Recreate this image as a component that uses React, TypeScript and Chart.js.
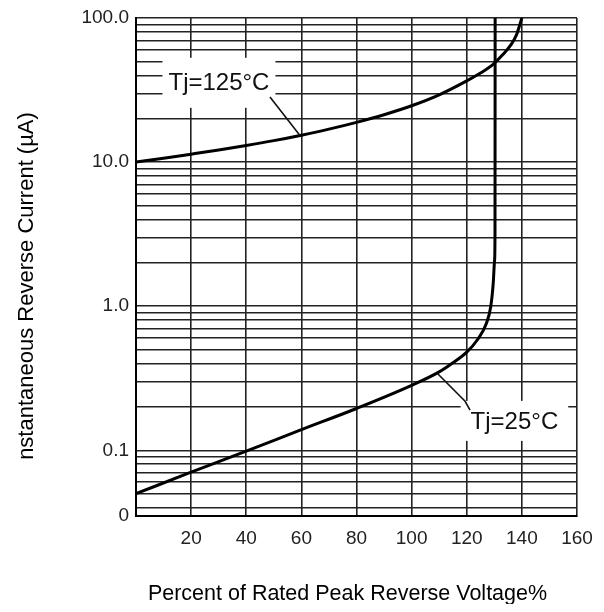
import { useEffect, useRef } from "react";
import { Chart, registerables } from "chart.js";

Chart.register(...registerables);

// ---- data ----
const X_TICKS = [0, 20, 40, 60, 80, 100, 120, 140, 160];
const X_TICK_LABELS = ["", "20", "40", "60", "80", "100", "120", "140", "160"];

const Y_MIN = 0.035;
const Y_MAX = 100;
const Y_DECADES = [0.01, 0.1, 1, 10];
const Y_LABEL_VALUES = [0.035, 0.1, 1, 10, 100];
const Y_LABEL_TEXT = ["0", "0.1", "1.0", "10.0", "100.0"];

const V_125 = [0, 10, 20, 30, 40, 50, 60, 70, 80, 90, 100, 110, 120, 125, 130, 133, 136, 138, 140];
const I_125 = [10.0, 10.64, 11.35, 12.13, 13.03, 14.09, 15.38, 16.94, 18.88, 21.33, 24.6, 29.3, 36.6, 41.5, 48.5, 55.5, 65, 76, 100];

const V_25 = [0, 20, 40, 60, 80, 100, 110, 115, 120, 124, 127, 128.7, 129.6, 130.1, 130.25, 130.3];
const I_25 = [0.05, 0.0705, 0.0986, 0.139, 0.195, 0.282, 0.35, 0.405, 0.48, 0.59, 0.75, 0.99, 1.44, 2.09, 3.2, 100];

const X_TITLE = "Percent of Rated Peak Reverse Voltage%";
const Y_TITLE = "nstantaneous Reverse Current (µA)";

const LABEL_TEXTS = ["Tj=125°C", "Tj=25°C"];

// ---- derived ----
const Y_GRID: number[] = [Y_MIN];
Y_DECADES.forEach((d) => {
  for (let k = 1; k <= 9; k++) {
    const v = +(d * k).toPrecision(6);
    if (v > Y_MIN && v < Y_MAX) Y_GRID.push(v);
  }
});
Y_GRID.push(Y_MAX);

const FONT = "'Liberation Sans', Arial, Helvetica, sans-serif";

// annotation layout (data coordinates)
const ANNOTATIONS = [
  {
    text: LABEL_TEXTS[0],
    at: [30.1, 35.5],
    padX: 6,
    padY: 25,
    leader: [
      [48.6, 28.3],
      [59.5, 15.3],
    ],
  },
  {
    text: LABEL_TEXTS[1],
    at: [137.3, 0.16],
    padX: 10,
    padY: 20,
    leader: [
      [109.1, 0.345],
      [119.4, 0.219],
      [121.2, 0.19],
    ],
  },
];

const annotationPlugin = {
  id: "curveLabels",
  afterDatasetsDraw(chart: any) {
    const { ctx, scales, chartArea } = chart;
    const xs = scales.x;
    const ys = scales.y;
    ctx.save();
    ctx.font = `24px ${FONT}`;
    ctx.textAlign = "center";
    ctx.textBaseline = "middle";
    ANNOTATIONS.forEach((a) => {
      const px = xs.getPixelForValue(a.at[0]);
      const py = ys.getPixelForValue(a.at[1]);
      const w = ctx.measureText(a.text).width;
      ctx.fillStyle = "#fff";
      ctx.fillRect(px - w / 2 - a.padX, py - a.padY, w + 2 * a.padX, 2 * a.padY);
      ctx.fillStyle = "#111";
      ctx.fillText(a.text, px, py + 1);
      ctx.strokeStyle = "#111";
      ctx.lineWidth = 1.6;
      ctx.beginPath();
      a.leader.forEach((p, i) => {
        const lx = xs.getPixelForValue(p[0]);
        const ly = ys.getPixelForValue(p[1]);
        if (i === 0) ctx.moveTo(lx, ly);
        else ctx.lineTo(lx, ly);
      });
      ctx.stroke();
    });

    // axis titles
    ctx.fillStyle = "#000";
    ctx.font = `21.5px ${FONT}`;
    ctx.fillText(X_TITLE, (chartArea.left + chartArea.right) / 2 - 9, chartArea.bottom + 78);
    ctx.save();
    ctx.translate(chartArea.left - 109, 278);
    ctx.rotate(-Math.PI / 2);
    ctx.font = `22px ${FONT}`;
    ctx.fillText(Y_TITLE, 0, 0);
    ctx.restore();
    ctx.restore();
  },
};

export default function App() {
  const ref = useRef<HTMLCanvasElement | null>(null);

  useEffect(() => {
    if (!ref.current) return;
    const chart = new Chart(ref.current, {
      type: "line",
      data: {
        datasets: [
          {
            label: LABEL_TEXTS[0],
            data: V_125.map((v, i) => ({ x: v, y: I_125[i] })),
            borderColor: "#000",
            borderWidth: 3,
            pointRadius: 0,
            cubicInterpolationMode: "monotone",
            fill: false,
          },
          {
            label: LABEL_TEXTS[1],
            data: V_25.map((v, i) => ({ x: v, y: I_25[i] })),
            borderColor: "#000",
            borderWidth: 3,
            pointRadius: 0,
            cubicInterpolationMode: "monotone",
            fill: false,
          },
        ],
      },
      options: {
        animation: false,
        responsive: true,
        maintainAspectRatio: false,
        layout: { padding: { top: 10, right: 19, bottom: 0, left: 0 } },
        plugins: {
          legend: { display: false },
          tooltip: { enabled: false },
          title: { display: false },
        },
        scales: {
          x: {
            type: "linear",
            min: 0,
            max: 160,
            afterBuildTicks: (axis: any) => {
              axis.ticks = X_TICKS.map((value) => ({ value }));
            },
            afterFit: (axis: any) => {
              axis.height = 88;
              axis.paddingLeft = 0;
              axis.paddingRight = 0;
            },
            ticks: {
              autoSkip: false,
              maxRotation: 0,
              padding: 11,
              color: "#222",
              font: { family: FONT, size: 19 },
              callback: (value: any) => {
                const i = X_TICKS.indexOf(Number(value));
                return i >= 0 ? X_TICK_LABELS[i] : "";
              },
            },
            grid: { color: "#222", lineWidth: 1.6, drawTicks: false },
            border: { color: "#000", width: 2 },
          },
          y: {
            type: "logarithmic",
            min: Y_MIN,
            max: Y_MAX,
            afterBuildTicks: (axis: any) => {
              axis.ticks = Y_GRID.map((value) => ({ value }));
            },
            afterFit: (axis: any) => {
              axis.width = 128;
              axis.paddingTop = 0;
              axis.paddingBottom = 0;
            },
            ticks: {
              autoSkip: false,
              padding: 7,
              color: "#222",
              font: { family: FONT, size: 19 },
              callback: (value: any) => {
                const v = Number(value);
                const i = Y_LABEL_VALUES.findIndex((t) => Math.abs(t - v) / t < 1e-6);
                return i >= 0 ? Y_LABEL_TEXT[i] : "";
              },
            },
            grid: { color: "#222", lineWidth: 1.6, drawTicks: false },
            border: { color: "#000", width: 2 },
          },
        },
      },
      plugins: [annotationPlugin],
    });
    return () => chart.destroy();
  }, []);

  return (
    <div style={{ position: "relative", width: 588, height: 596 }}>
      <canvas ref={ref} />
    </div>
  );
}
